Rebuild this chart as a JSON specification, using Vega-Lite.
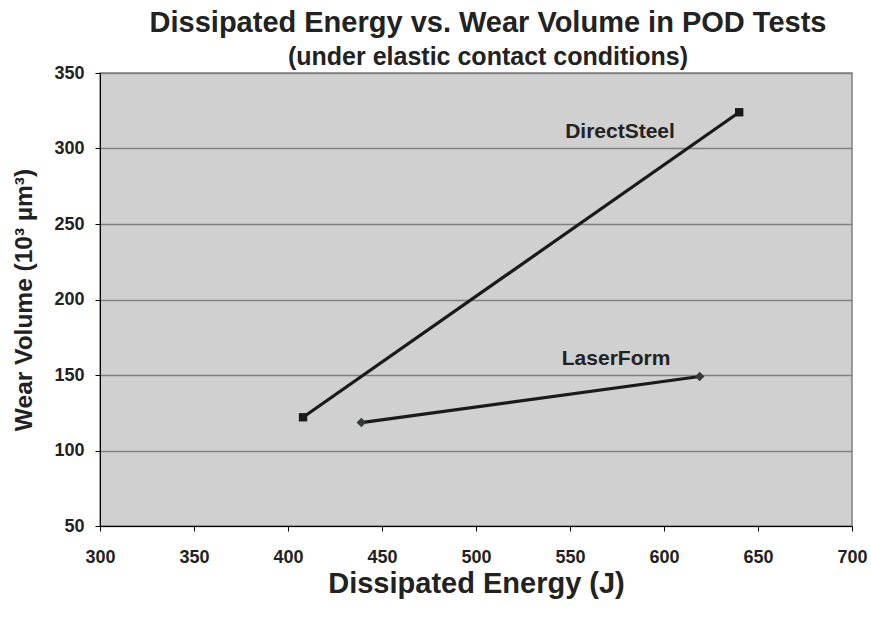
{
  "$schema": "https://vega.github.io/schema/vega-lite/v6.json",
  "width": 752,
  "height": 453,
  "autosize": {"type": "none"},
  "padding": {"left": 100, "top": 73, "right": 19, "bottom": 93},
  "background": "white",
  "title": {
    "text": "Dissipated Energy vs. Wear Volume in POD Tests",
    "subtitle": "(under elastic contact conditions)",
    "font": "Liberation Sans",
    "fontSize": 29,
    "fontWeight": "bold",
    "color": "#222222",
    "subtitleFont": "Liberation Sans",
    "subtitleFontSize": 25,
    "subtitleFontWeight": "bold",
    "subtitleColor": "#222222",
    "subtitlePadding": 7,
    "anchor": "middle",
    "dx": 12,
    "offset": -6
  },
  "config": {
    "view": {"fill": "#d0d0d0", "stroke": "#808080", "strokeWidth": 1.5},
    "font": "Liberation Sans"
  },
  "datasets": {
    "series": [
      {"series": "DirectSteel", "energy": 408, "wear": 122},
      {"series": "DirectSteel", "energy": 640, "wear": 324},
      {"series": "LaserForm", "energy": 439, "wear": 118.5},
      {"series": "LaserForm", "energy": 619, "wear": 149}
    ],
    "labels": [
      {"label": "DirectSteel", "energy": 576.6, "wear": 310.6},
      {"label": "LaserForm", "energy": 574.5, "wear": 160.3}
    ]
  },
  "layer": [
    {
      "data": {"name": "series"},
      "mark": {"type": "line", "color": "#1a1a1a", "strokeWidth": 3.2},
      "encoding": {
        "x": {
          "field": "energy", "type": "quantitative",
          "scale": {"domain": [300, 700], "nice": false, "zero": false},
          "axis": {
            "title": "Dissipated Energy (J)",
            "values": [300, 350, 400, 450, 500, 550, 600, 650, 700],
            "grid": false,
            "labelFlush": false,
            "domainColor": "#000000", "domainWidth": 1,
            "tickColor": "#000000", "tickSize": 5,
            "labelFont": "Liberation Sans", "labelFontSize": 18, "labelFontWeight": "bold", "labelColor": "#222222",
            "labelPadding": 17,
            "titleFont": "Liberation Sans", "titleFontSize": 29, "titleFontWeight": "bold", "titleColor": "#222222",
            "titlePadding": 3
          }
        },
        "y": {
          "field": "wear", "type": "quantitative",
          "scale": {"domain": [50, 350], "nice": false, "zero": false},
          "axis": {
            "title": "Wear Volume (10³ µm³)",
            "values": [50, 100, 150, 200, 250, 300, 350],
            "grid": true, "gridColor": "#808080", "gridWidth": 1.5,
            "labelFlush": false,
            "domainColor": "#000000", "domainWidth": 1,
            "tickColor": "#000000", "tickSize": 5,
            "labelFont": "Liberation Sans", "labelFontSize": 18, "labelFontWeight": "bold", "labelColor": "#222222",
            "labelPadding": 11,
            "titleFont": "Liberation Sans", "titleFontSize": 24.5, "titleFontWeight": "bold", "titleColor": "#222222",
            "titlePadding": 17
          }
        },
        "detail": {"field": "series"}
      }
    },
    {
      "data": {"name": "series"},
      "mark": {"type": "point", "filled": true, "opacity": 1},
      "encoding": {
        "x": {"field": "energy", "type": "quantitative"},
        "y": {"field": "wear", "type": "quantitative"},
        "shape": {
          "field": "series", "type": "nominal",
          "scale": {"domain": ["DirectSteel", "LaserForm"], "range": ["square", "diamond"]},
          "legend": null
        },
        "color": {
          "field": "series", "type": "nominal",
          "scale": {"domain": ["DirectSteel", "LaserForm"], "range": ["#1a1a1a", "#333a38"]},
          "legend": null
        },
        "size": {
          "field": "series", "type": "nominal",
          "scale": {"domain": ["DirectSteel", "LaserForm"], "range": [70, 90]},
          "legend": null
        }
      }
    },
    {
      "data": {"name": "labels"},
      "mark": {"type": "text", "font": "Liberation Sans", "fontSize": 21, "fontWeight": "bold", "color": "#222222", "align": "center", "baseline": "middle"},
      "encoding": {
        "x": {"field": "energy", "type": "quantitative"},
        "y": {"field": "wear", "type": "quantitative"},
        "text": {"field": "label"}
      }
    }
  ]
}
